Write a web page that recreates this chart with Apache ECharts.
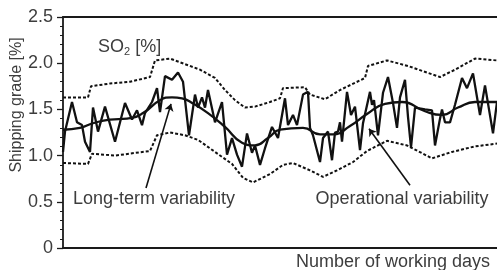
<!DOCTYPE html>
<html><head><meta charset="utf-8">
<script src="https://cdn.jsdelivr.net/npm/echarts@6/dist/echarts.min.js"></script>
<style>html,body{margin:0;padding:0;background:#fff}#c{width:497px;height:270px}</style>
</head><body><div id="c"></div>
<script>
// Operational variability (daily shipping grade)
const opDays = [0,2,9,14,19,22,27,30,35,42,52,62,69,74,79,82,89,94,97,102,109,115,120,126,132,135,139,142,145,152,159,164,169,174,179,184,189,192,197,202,209,212,215,222,225,230,234,240,245,247,250,257,260,265,269,272,275,277,279,284,288,292,297,300,307,309,311,315,320,325,330,334,337,342,345,348,352,362,369,372,377,379,382,387,392,399,404,410,417,422,430,434];
const opValues = [1.04,1.26,1.58,1.36,1.33,1.15,1.04,1.52,1.26,1.53,1.15,1.57,1.39,1.49,1.33,1.46,1.58,1.73,1.47,1.86,1.82,1.90,1.80,1.22,1.66,1.52,1.63,1.52,1.71,1.36,1.58,1.01,1.19,1.01,0.88,1.24,1.03,1.11,0.90,1.08,1.31,1.25,1.19,1.62,1.33,1.44,1.33,1.66,1.69,1.30,1.22,0.93,1.19,1.26,0.95,1.25,1.26,1.36,1.15,1.69,1.44,1.53,1.06,1.35,1.69,1.55,1.60,1.22,1.68,1.85,1.57,1.30,1.63,1.82,1.42,1.09,1.52,1.50,1.49,1.11,1.40,1.50,1.36,1.36,1.55,1.84,1.73,1.89,1.44,1.76,1.24,1.58];
// Long-term variability (smoothed trend)
const ltDays = [0,17,30,47,64,80,97,109,119,129,145,162,179,192,205,217,240,257,270,287,304,322,339,362,379,395,412,434];
const ltValues = [1.28,1.30,1.35,1.39,1.40,1.46,1.60,1.63,1.62,1.57,1.46,1.31,1.14,1.11,1.19,1.28,1.30,1.23,1.23,1.32,1.45,1.56,1.58,1.48,1.44,1.52,1.58,1.58];
// Upper limit (dashed)
const upDays = [0,25,28,47,67,87,92,107,122,137,152,162,172,182,192,207,217,220,242,247,262,277,302,305,324,345,377,392,412,434];
const upValues = [1.63,1.63,1.75,1.78,1.80,1.85,2.03,2.05,1.99,1.93,1.84,1.71,1.60,1.52,1.53,1.58,1.62,1.73,1.74,1.66,1.61,1.71,1.84,1.97,2.03,1.97,1.85,1.93,2.05,2.03];
// Lower limit (dashed)
const loDays = [0,25,29,52,87,94,107,122,135,152,169,180,190,207,220,230,247,260,274,290,304,324,344,369,389,412,434];
const loValues = [0.92,0.91,1.02,1.00,1.05,1.22,1.25,1.22,1.17,1.04,0.91,0.76,0.71,0.80,0.90,0.92,0.84,0.77,0.84,0.93,1.05,1.16,1.11,0.97,1.04,1.10,1.13];
// Y axis ticks
const yTicks = [0, 0.5, 1.0, 1.5, 2.0, 2.5];
// Annotation pointers [fromDay, fromValue, toDay, toValue]
const longTermPointer = [83, 0.65, 108, 1.56];
const operationalPointer = [347, 0.68, 306, 1.29];

const zip = (a, b) => a.map((d, i) => [d, b[i]]);
const FONT = '"Liberation Sans", Arial, Helvetica, sans-serif';
const TXT = '#3d3d3d';
const chart = echarts.init(document.getElementById('c'), null, {renderer: 'canvas'});
const xBase = {
  type: 'value', min: 0, max: opDays[opDays.length - 1],
  axisLine: {show: true, lineStyle: {color: '#1a1a1a', width: 1.8}},
  axisTick: {show: false}, axisLabel: {show: false}, splitLine: {show: false}
};
const lineStyle = {color: '#111', width: 2.3};
const dashStyle = {color: '#111', width: 2, type: [3, 2]};
chart.setOption({
  animation: false,
  grid: {left: 63, right: 0, top: 17, bottom: 22},
  xAxis: [Object.assign({position: 'bottom'}, xBase), Object.assign({position: 'top'}, xBase)],
  yAxis: {
    type: 'value', min: yTicks[0], max: yTicks[yTicks.length - 1], interval: 0.5,
    axisLine: {show: true, lineStyle: {color: '#1a1a1a', width: 1.8}},
    axisTick: {show: true, length: 6, lineStyle: {color: '#1a1a1a', width: 1.3}},
    minorTick: {show: true, splitNumber: 5, length: 3, lineStyle: {color: '#1a1a1a', width: 1}},
    axisLabel: {
      margin: 10, fontSize: 18, color: TXT, fontFamily: FONT,
      formatter: v => (v === 0 ? '0' : v.toFixed(1))
    },
    splitLine: {show: false}
  },
  series: [
    {type: 'line', data: zip(upDays, upValues), symbol: 'none', lineStyle: dashStyle, silent: true},
    {type: 'line', data: zip(loDays, loValues), symbol: 'none', lineStyle: dashStyle, silent: true},
    {type: 'line', data: zip(opDays, opValues), symbol: 'none', lineStyle: lineStyle, silent: true},
    {type: 'line', data: zip(ltDays, ltValues), symbol: 'none', smooth: 0.5, lineStyle: lineStyle, silent: true,
     markLine: {
       silent: true, symbol: ['none', 'arrow'], symbolSize: 7, label: {show: false},
       lineStyle: {color: '#111', width: 1.6, type: 'solid'},
       data: [
         [{coord: [longTermPointer[0], longTermPointer[1]]}, {coord: [longTermPointer[2], longTermPointer[3]]}],
         [{coord: [operationalPointer[0], operationalPointer[1]]}, {coord: [operationalPointer[2], operationalPointer[3]]}]
       ]
     }}
  ],
  graphic: [
    {type: 'text', left: 98, top: 38, style: {
      text: '{a|SO}{b|2}{a| [%]}', fill: TXT,
      rich: {a: {fontSize: 18, fontFamily: FONT, fill: TXT}, b: {fontSize: 11, fontFamily: FONT, fill: TXT, padding: [9, 0, 0, 0]}}
    }},
    {type: 'text', x: 154, y: 199, style: {text: 'Long-term variability', font: '18px ' + FONT, fill: TXT, align: 'center', verticalAlign: 'middle'}},
    {type: 'text', x: 402, y: 199, style: {text: 'Operational variability', font: '18px ' + FONT, fill: TXT, align: 'center', verticalAlign: 'middle'}},
    {type: 'text', x: 393, y: 262, style: {text: 'Number of working days', font: '18px ' + FONT, fill: TXT, align: 'center', verticalAlign: 'middle'}},
    {type: 'text', x: 17, y: 105, rotation: Math.PI / 2, style: {text: 'Shipping grade [%]', font: '16px ' + FONT, fill: TXT, align: 'center', verticalAlign: 'middle'}}
  ]
});
</script></body></html>
